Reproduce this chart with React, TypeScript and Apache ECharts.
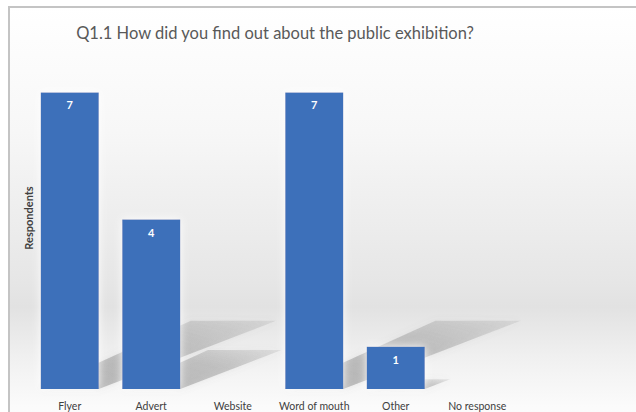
import React, { useEffect, useRef } from "react";
import * as echarts from "echarts";

const TITLE = "Q1.1 How did you find out about the public exhibition?";
const Y_NAME = "Respondents";
const categories = ["Flyer", "Advert", "Website", "Word of mouth", "Other", "No response"];
const respondents = [7, 4, 0, 7, 1, 0];
const FONT = "Lato, 'Noto Sans', sans-serif";

export default function App() {
  const ref = useRef<HTMLDivElement>(null);
  useEffect(() => {
    if (!ref.current) return;
    const chart = echarts.init(ref.current, null, { renderer: "svg" });
    const option: any = {
      animation: false,
      backgroundColor: "#ffffff",
      title: {
        text: TITLE,
        left: 275,
        top: 24,
        padding: 0,
        textAlign: "center",
        textStyle: { fontFamily: FONT, fontSize: 16.5, fontWeight: "normal", color: "#595959" },
      },
      graphic: [
        {
          type: "rect",
          z: -10,
          silent: true,
          shape: { x: 9, y: 7, width: 700, height: 500 },
          style: {
            stroke: "#c4c4c4",
            lineWidth: 2,
            fill: {
              type: "linear",
              x: 0, y: 0, x2: 0, y2: 1,
              colorStops: [
                { offset: 0, color: "#ffffff" },
                { offset: 0.25, color: "#f7f7f7" },
                { offset: 0.55, color: "#e6e6e6" },
                { offset: 0.6, color: "#e2e2e2" },
                { offset: 0.7, color: "#f0f0f0" },
                { offset: 0.8, color: "#fbfbfb" },
                { offset: 1, color: "#ffffff" },
              ],
            },
          },
        },
        {
          type: "text",
          x: 28,
          y: 218,
          rotation: Math.PI / 2,
          silent: true,
          style: {
            text: Y_NAME,
            fontFamily: FONT,
            fontSize: 11,
            fontWeight: "bold",
            fill: "#404040",
            align: "center",
            verticalAlign: "middle",
          },
        },
      ],
      grid: { left: 29, right: 118, top: 50, bottom: 23, containLabel: false },
      xAxis: {
        type: "category",
        data: categories,
        axisLine: { show: false },
        axisTick: { show: false },
        axisLabel: { color: "#404040", fontSize: 10.5, fontFamily: FONT, margin: 11, interval: 0 },
      },
      yAxis: { type: "value", min: 0, max: 8, show: false },
      series: [
        {
          type: "custom",
          z: 1,
          silent: true,
          data: respondents.map((v, i) => [i, v]),
          renderItem: (params: any, api: any) => {
            const i = api.value(0);
            const v = api.value(1);
            if (!v) return null;
            const base = api.coord([i, 0]);
            const top = api.coord([i, v]);
            const h = base[1] - top[1];
            const sh = h * 0.23;
            const half = 29;
            return {
              type: "polygon",
              shape: {
                points: [
                  [base[0] - half, base[1]],
                  [base[0] + half, base[1]],
                  [base[0] + half + sh * 2.6, base[1] - sh],
                  [base[0] - half + sh * 2.2, base[1] - sh],
                ],
              },
              style: {
                shadowBlur: 7,
                shadowColor: "rgba(120,120,120,0.35)",
                fill: {
                  type: "linear",
                  x: 0, y: 1, x2: 1, y2: 0,
                  colorStops: [
                    { offset: 0, color: "rgba(105,105,105,0.40)" },
                    { offset: 0.6, color: "rgba(105,105,105,0.30)" },
                    { offset: 1, color: "rgba(105,105,105,0.12)" },
                  ],
                },
              },
            };
          },
        },
        {
          type: "bar",
          z: 3,
          data: respondents,
          barWidth: 58,
          itemStyle: {
            color: "#3d6fba",
            shadowBlur: 8,
            shadowColor: "rgba(255,255,255,0.95)",
          },
          label: {
            show: true,
            position: "insideTop",
            distance: 7,
            color: "#ffffff",
            fontFamily: FONT,
            fontSize: 11,
            fontWeight: "bold",
            formatter: (p: any) => (p.value ? String(p.value) : ""),
          },
        },
      ],
    };
    chart.setOption(option);
    return () => chart.dispose();
  }, []);
  return <div ref={ref} style={{ position: "fixed", left: 0, top: 0, width: 636, height: 412 }} />;
}
